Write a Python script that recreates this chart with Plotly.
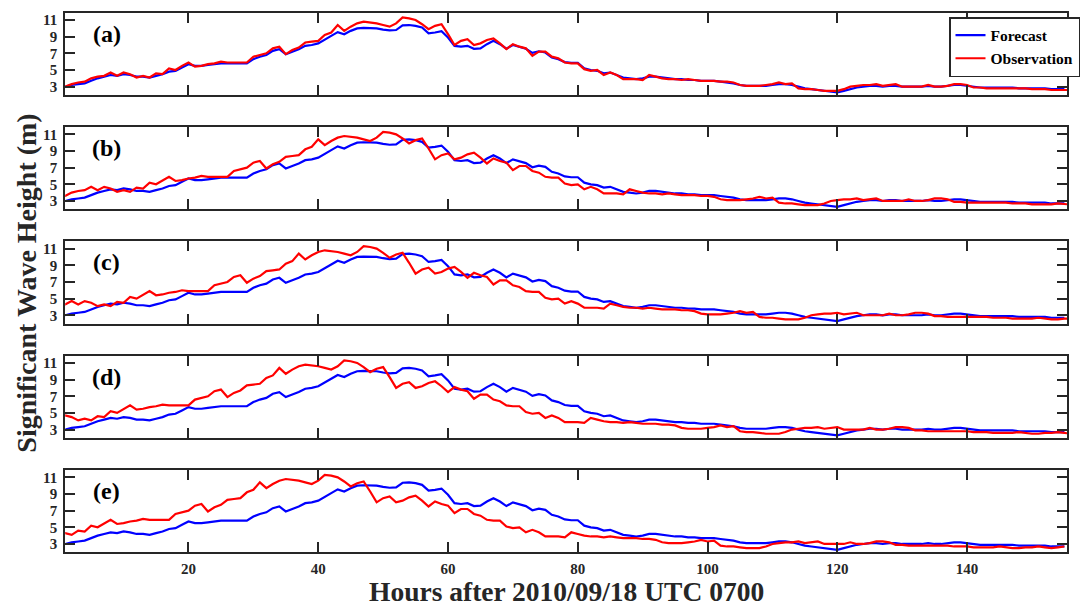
import plotly.graph_objects as go

# ---------------- data ----------------
HOURS = list(range(1, 156))
FORECAST = [
    3.0, 3.2, 3.3, 3.4, 3.7, 4.0, 4.2, 4.4, 4.3, 4.5,
    4.4, 4.2, 4.2, 4.1, 4.3, 4.5, 4.8, 4.9, 5.3, 5.7,
    5.5, 5.5, 5.6, 5.7, 5.8, 5.8, 5.8, 5.8, 5.8, 6.3,
    6.6, 6.8, 7.3, 7.5, 6.9, 7.2, 7.5, 7.9, 8.0, 8.2,
    8.7, 9.1, 9.55, 9.3, 9.7, 10.0, 10.05, 10.05, 10.0, 9.85,
    9.75, 9.8, 10.35, 10.4, 10.3, 10.1, 9.4, 9.5, 9.65, 8.9,
    7.9, 7.8, 7.9, 7.55, 7.6, 8.1, 8.5, 8.1, 7.55, 8.0,
    7.8, 7.55, 7.05, 7.25, 7.1, 6.5, 6.3, 5.95, 5.85, 5.85,
    5.2, 5.0, 4.9, 4.6, 4.7, 4.4, 4.1, 4.0, 3.9, 4.0,
    4.2, 4.2, 4.1, 4.0, 3.9, 3.9, 3.8, 3.8, 3.7, 3.7,
    3.7, 3.6, 3.5, 3.4, 3.2, 3.1, 3.1, 3.1, 3.1, 3.2,
    3.3, 3.3, 3.2, 3.0, 2.8, 2.7, 2.6, 2.5, 2.4, 2.3,
    2.5, 2.7, 2.9, 3.0, 3.1, 3.1, 3.0, 3.1, 3.1, 3.0,
    3.0, 3.0, 3.0, 3.1, 3.0, 3.0, 3.1, 3.2, 3.2, 3.1,
    3.0, 2.9, 2.9, 2.9, 2.9, 2.9, 2.9, 2.8, 2.8, 2.8,
    2.8, 2.8, 2.7, 2.7, 2.7,
]
OBS_HOURS = list(range(1, 168))
OBSERVATION = [
    3.0, 3.3, 3.5, 3.6, 4.0, 4.2, 4.3, 4.7, 4.3, 4.7,
    4.5, 4.1, 4.3, 4.1, 4.6, 4.5, 5.2, 5.0, 5.5, 5.9,
    5.4, 5.5, 5.7, 5.8, 6.0, 5.9, 5.9, 5.9, 5.9, 6.6,
    6.8, 7.0, 7.6, 7.8, 6.9, 7.4, 7.7, 8.3, 8.4, 8.5,
    9.2, 9.5, 10.4, 9.7, 10.2, 10.6, 10.8, 10.7, 10.6, 10.4,
    10.2, 10.6, 11.3, 11.2, 11.0, 10.5, 9.9, 10.3, 10.5, 9.3,
    8.0, 8.5, 8.7, 8.0, 8.2, 8.6, 8.8, 8.2, 7.5, 8.1,
    7.8, 7.6, 6.7, 7.2, 7.2, 6.6, 6.4, 5.9, 5.8, 5.8,
    5.1, 4.9, 5.0, 4.4, 4.7, 4.4, 3.9, 3.9, 3.9, 3.8,
    4.4, 4.2, 4.0, 3.9, 3.9, 3.8, 3.9, 3.8, 3.7, 3.7,
    3.7, 3.6, 3.6, 3.5, 3.2, 3.1, 3.1, 3.1, 3.2, 3.3,
    3.5, 3.3, 3.4, 2.8, 2.7, 2.7, 2.6, 2.5, 2.5, 2.5,
    2.7, 3.0, 3.1, 3.2, 3.2, 3.3, 3.1, 3.2, 3.3, 3.0,
    3.0, 3.0, 3.0, 3.2, 3.0, 3.0, 3.1, 3.3, 3.3, 3.2,
    2.9, 2.9, 2.8, 2.8, 2.8, 2.8, 2.8, 2.8, 2.8, 2.7,
    2.7, 2.7, 2.6, 2.6, 2.6, 2.6, 2.7, 2.6, 2.5, 2.5,
    2.6, 2.6, 2.7, 2.6, 2.5, 2.6, 2.7,
]
PANEL_LABELS = ["(a)", "(b)", "(c)", "(d)", "(e)"]
LAGS = [0, 3, 6, 9, 12]          # observation lead (hours) per panel
X_TICKS = [20, 40, 60, 80, 100, 120, 140]
Y_TICKS = [3, 5, 7, 9, 11]
X_TITLE = "Hours after 2010/09/18 UTC 0700"
Y_TITLE = "Significant Wave Height (m)"

# ---------------- layout geometry ----------------
W, H = 1080, 609
LEFT, RIGHT = 66, 1080
TOPS = [12.7, 127.0, 241.3, 355.6, 470.0]
PH = 82.3
FONT = "Liberation Serif"
AX_COLOR = "#262626"

fig = go.Figure()
layout = {}
for i in range(5):
    sfx = "" if i == 0 else str(i + 1)
    fig.add_trace(go.Scatter(
        x=HOURS, y=FORECAST, mode="lines", name="Forecast",
        line=dict(color="#0000ff", width=2.2),
        showlegend=(i == 0), xaxis="x" + sfx, yaxis="y" + sfx))
    fig.add_trace(go.Scatter(
        x=[h - LAGS[i] for h in OBS_HOURS], y=OBSERVATION, mode="lines",
        name="Observation", line=dict(color="#ff0000", width=2.2),
        showlegend=(i == 0), xaxis="x" + sfx, yaxis="y" + sfx))
    top = TOPS[i]
    y0 = 1 - (top + PH) / H
    y1 = 1 - top / H
    layout["xaxis" + sfx] = dict(
        domain=[LEFT / W, RIGHT / W], range=[1, 155.4], anchor="y" + sfx,
        tickvals=X_TICKS, showticklabels=(i == 4), ticks="inside",
        ticklen=10, tickwidth=1.5, tickcolor=AX_COLOR, showline=True,
        linewidth=2, linecolor=AX_COLOR, mirror="ticks", showgrid=False,
        zeroline=False, ticklabelstandoff=2,
        tickfont=dict(family=FONT, size=15, color=AX_COLOR, weight="bold"))
    layout["yaxis" + sfx] = dict(
        domain=[y0, y1], range=[2.0, 11.88], anchor="x" + sfx,
        tickvals=Y_TICKS, ticks="inside", ticklen=10, tickwidth=1.5,
        tickcolor=AX_COLOR, showline=True, linewidth=2, linecolor=AX_COLOR,
        mirror="ticks", showgrid=False, zeroline=False, ticklabelstandoff=3,
        tickfont=dict(family=FONT, size=15, color=AX_COLOR, weight="bold"))

annotations = []
for i, lab in enumerate(PANEL_LABELS):
    annotations.append(dict(
        text=lab, xref="paper", yref="paper", x=108 / W,
        y=1 - (TOPS[i] + 21) / H, xanchor="center", yanchor="middle",
        showarrow=False,
        font=dict(family=FONT, size=24, color="#000000", weight="bold")))
annotations.append(dict(
    text=X_TITLE, xref="paper", yref="paper", x=573 / W, y=0.0,
    xanchor="center", yanchor="bottom", showarrow=False,
    font=dict(family=FONT, size=27.5, color=AX_COLOR, weight="bold")))
annotations.append(dict(
    text=Y_TITLE, xref="paper", yref="paper", x=26 / W, y=1 - 283 / H,
    xanchor="center", yanchor="middle", showarrow=False, textangle=-90,
    font=dict(family=FONT, size=28, color=AX_COLOR, weight="bold")))

fig.update_layout(
    width=W, height=H, margin=dict(l=0, r=0, t=0, b=0),
    paper_bgcolor="white", plot_bgcolor="white",
    annotations=annotations,
    legend=dict(x=961 / W, y=1 - 17 / H, xanchor="left", yanchor="top",
                bgcolor="white", bordercolor=AX_COLOR, borderwidth=1.5,
                tracegroupgap=0, itemwidth=30,
                font=dict(family=FONT, size=15.5, color="#000000", weight="bold")),
    **layout)

fig.write_html("out.html")
